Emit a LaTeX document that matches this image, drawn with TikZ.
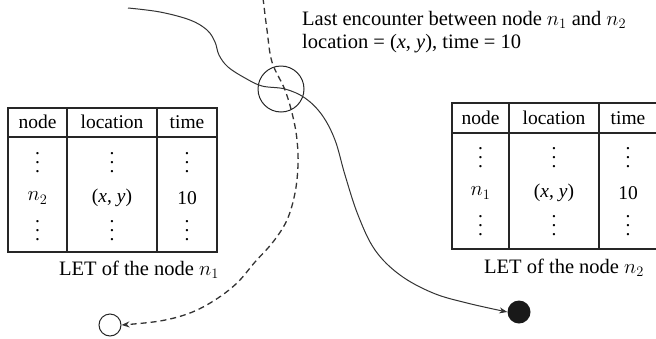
\documentclass[tikz,border=0pt]{standalone}
\usepackage{fontspec}
\setmainfont{Liberation Serif}
\usetikzlibrary{arrows.meta}
\newcommand\vdts{\vbox{\baselineskip=9pt\lineskiplimit=0pt\hbox{.}\hbox{.}\hbox{.}}}
\begin{document}
\begin{tikzpicture}[x=1pt,y=-1pt,
  tab/.style={line width=1.4pt, draw=black!85},
  headline/.style={line width=1.9pt, draw=black!85},
  cell/.style={inner sep=0pt, font=\fontsize{19.5}{22}\selectfont},
  lbl/.style={inner sep=0pt, font=\fontsize{20.5}{23.5}\selectfont},
  curve/.style={line width=1pt, draw=black!80},
  dcurve/.style={line width=1.3pt, draw=black!80, dash pattern=on 6pt off 4pt},
  tip/.style={-{Stealth[length=8pt,width=6pt]}}]
\useasboundingbox (0,0) rectangle (656,338);

% encounter circle and end points
\node[circle, draw=black!85, line width=1pt, minimum size=46pt, inner sep=0pt] (enc) at (281,89) {};
\node[circle, draw=black!85, line width=1pt, minimum size=22pt, inner sep=0pt] (src) at (110,325) {};
\node[circle, fill=black!90, minimum size=23pt, inner sep=0pt] (dst) at (519,312) {};

% solid trajectory
\draw[curve, tip] plot[smooth, tension=0.6] coordinates {(128,8) (160,12) (190,20) (207,30) (215,42) (219,55) (228,67) (245,78) (262,86) (285,89) (305,98) (322,115) (335,140) (345,175) (358,215) (375,250) (400,275) (433,293) (467,303) (dst.west)};

% dashed trajectory
\draw[dcurve, tip] plot[smooth, tension=0.6] coordinates {(263,-2) (267,30) (272,62) (285,90) (293,117) (297,140) (298,165) (295,193) (287,220) (273,242) (255,262) (237,283) (215,300) (190,313) (160,321) (src.east)};

% caption at top
\node[lbl, anchor=north west, align=left] (cap) at (302,11) {Last encounter between node $n_1$ and $n_2$\\location = (\textit{x}, \textit{y}), time = 10};

% left table
\draw[tab] (8,108) rectangle (217,252);
\draw[headline] (8,137) -- (217,137);
\draw[tab] (67,108) -- (67,252);
\draw[tab] (157,108) -- (157,252);
\node[cell] (lh1) at (37.5,122) {node};
\node[cell] (lh2) at (112,122) {location};
\node[cell] (lh3) at (187,122) {time};
\node[cell] (la1) at (37.5,163) {\vdts};
\node[cell] (la2) at (112,163) {\vdts};
\node[cell] (la3) at (187,163) {\vdts};
\node[cell] (lb1) at (37.5,198) {$n_2$};
\node[cell] (lb2) at (112,198) {(\textit{x}, \textit{y})};
\node[cell] (lb3) at (187,198) {10};
\node[cell] (lc1) at (37.5,231) {\vdts};
\node[cell] (lc2) at (112,231) {\vdts};
\node[cell] (lc3) at (187,231) {\vdts};
\node[lbl] (llet) at (139,270) {LET of the node $n_1$};

% right table
\draw[tab] (452,103) rectangle (658,249);
\draw[headline] (452,133) -- (658,133);
\draw[tab] (509,103) -- (509,249);
\draw[tab] (599,103) -- (599,249);
\node[cell] (rh1) at (480.5,118) {node};
\node[cell] (rh2) at (554,118) {location};
\node[cell] (rh3) at (628,118) {time};
\node[cell] (ra1) at (480.5,158) {\vdts};
\node[cell] (ra2) at (554,158) {\vdts};
\node[cell] (ra3) at (628,158) {\vdts};
\node[cell] (rb1) at (480.5,193) {$n_1$};
\node[cell] (rb2) at (554,193) {(\textit{x}, \textit{y})};
\node[cell] (rb3) at (628,193) {10};
\node[cell] (rc1) at (480.5,226) {\vdts};
\node[cell] (rc2) at (554,226) {\vdts};
\node[cell] (rc3) at (628,226) {\vdts};
\node[lbl] (rlet) at (564,268) {LET of the node $n_2$};
\end{tikzpicture}
\end{document}
